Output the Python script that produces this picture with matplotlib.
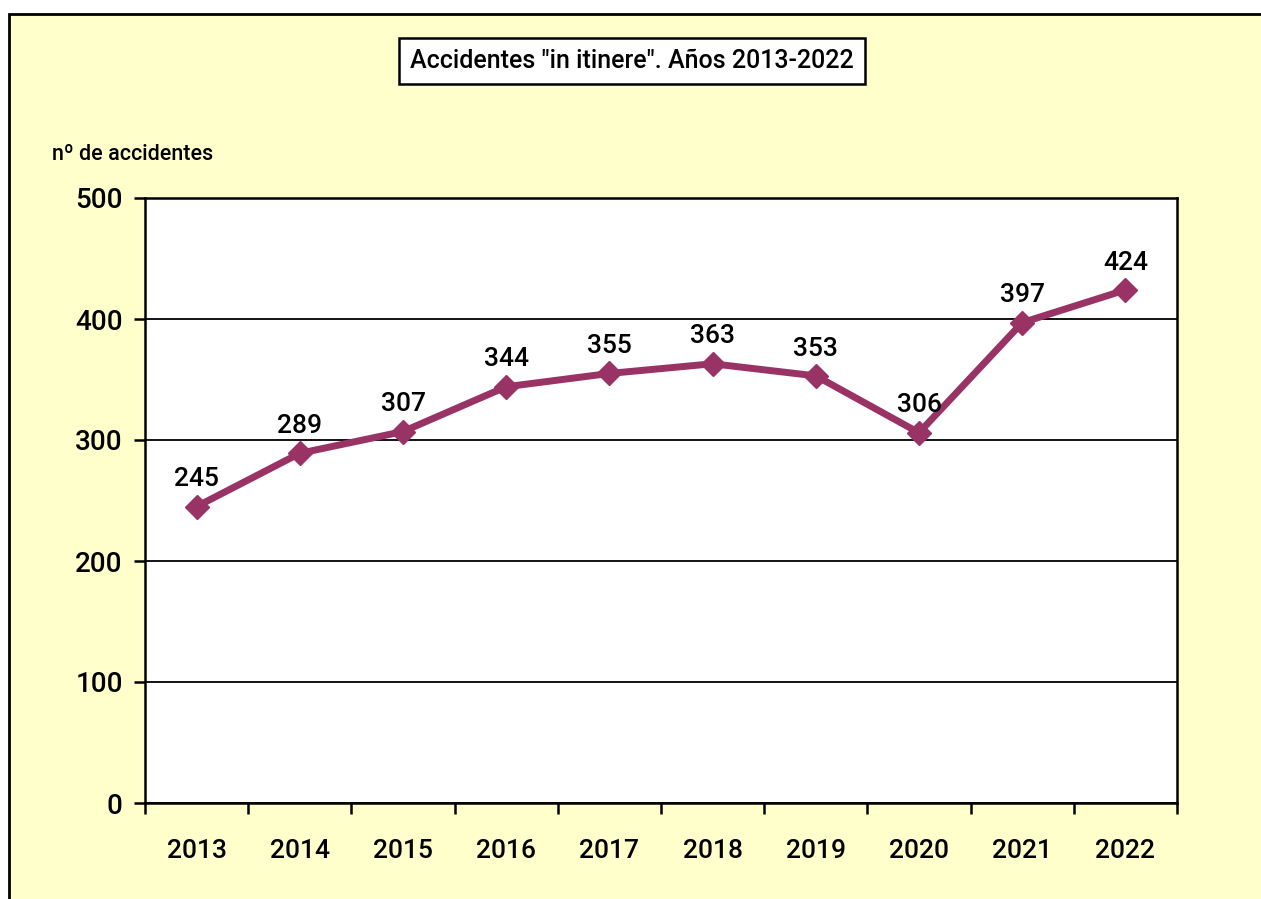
import matplotlib.pyplot as plt
from matplotlib.patches import Rectangle

years = ["2013", "2014", "2015", "2016", "2017", "2018", "2019", "2020", "2021", "2022"]
accidentes = [245, 289, 307, 344, 355, 363, 353, 306, 397, 424]
y_ticks = [0, 100, 200, 300, 400, 500]

plt.rcParams['font.family'] = ['Roboto', 'DejaVu Sans']
peso = "medium"

fig = plt.figure(figsize=(12.61, 8.99), dpi=100, facecolor="white")

# fondo amarillo con borde (solo arriba e izquierda visibles)
fondo = Rectangle((9 / 1261, -0.1), 1.2, (899 - 14) / 899 + 0.1,
                  transform=fig.transFigure, facecolor="#FFFFCC",
                  edgecolor="black", linewidth=2, zorder=-10)
fig.patches.append(fondo)

ax = fig.add_axes([145 / 1261, 1 - 803 / 899, (1177 - 145) / 1261, (803 - 198) / 899])
ax.set_facecolor("white")

x = list(range(len(years)))
ax.plot(x, accidentes, color="#993366", linewidth=5, marker="D",
        markersize=12.5, zorder=3, clip_on=False)

for xi, v in zip(x, accidentes):
    ax.annotate(str(v), (xi, v), xytext=(0, 11), textcoords="offset points",
                ha="center", va="bottom", fontsize=19, fontweight=peso, color="black")

ax.set_xlim(-0.5, len(years) - 0.5)
ax.set_ylim(0, 500)
ax.set_yticks(y_ticks)
ax.set_yticklabels([str(t) for t in y_ticks], fontsize=20, fontweight=peso)
ax.yaxis.grid(True, color="black", linewidth=1.3)
ax.set_axisbelow(True)

# ticks entre categorías, etiquetas centradas
ax.set_xticks([i - 0.5 for i in range(len(years) + 1)])
ax.set_xticklabels([])
ax.set_xticks(x, minor=True)
ax.set_xticklabels(years, minor=True, fontsize=19, fontweight=peso)
ax.tick_params(axis="x", which="major", length=8, width=1.8, direction="out")
ax.tick_params(axis="x", which="minor", length=0, pad=26)
ax.tick_params(axis="y", length=8, width=1.8, pad=8)

for s in ax.spines.values():
    s.set_linewidth(1.8)
    s.set_color("black")

fig.text(632 / 1261, 1 - 61 / 899, 'Accidentes "in itinere". Años 2013-2022',
         ha="center", va="center", fontsize=18, fontweight=peso,
         bbox=dict(boxstyle="square,pad=0.45", facecolor="white",
                   edgecolor="black", linewidth=1.8))

fig.text(52 / 1261, 1 - 154 / 899, "nº de accidentes", ha="left", va="center",
         fontsize=15.5, fontweight=peso)

fig.savefig("out.png", dpi=100, facecolor=fig.get_facecolor())
